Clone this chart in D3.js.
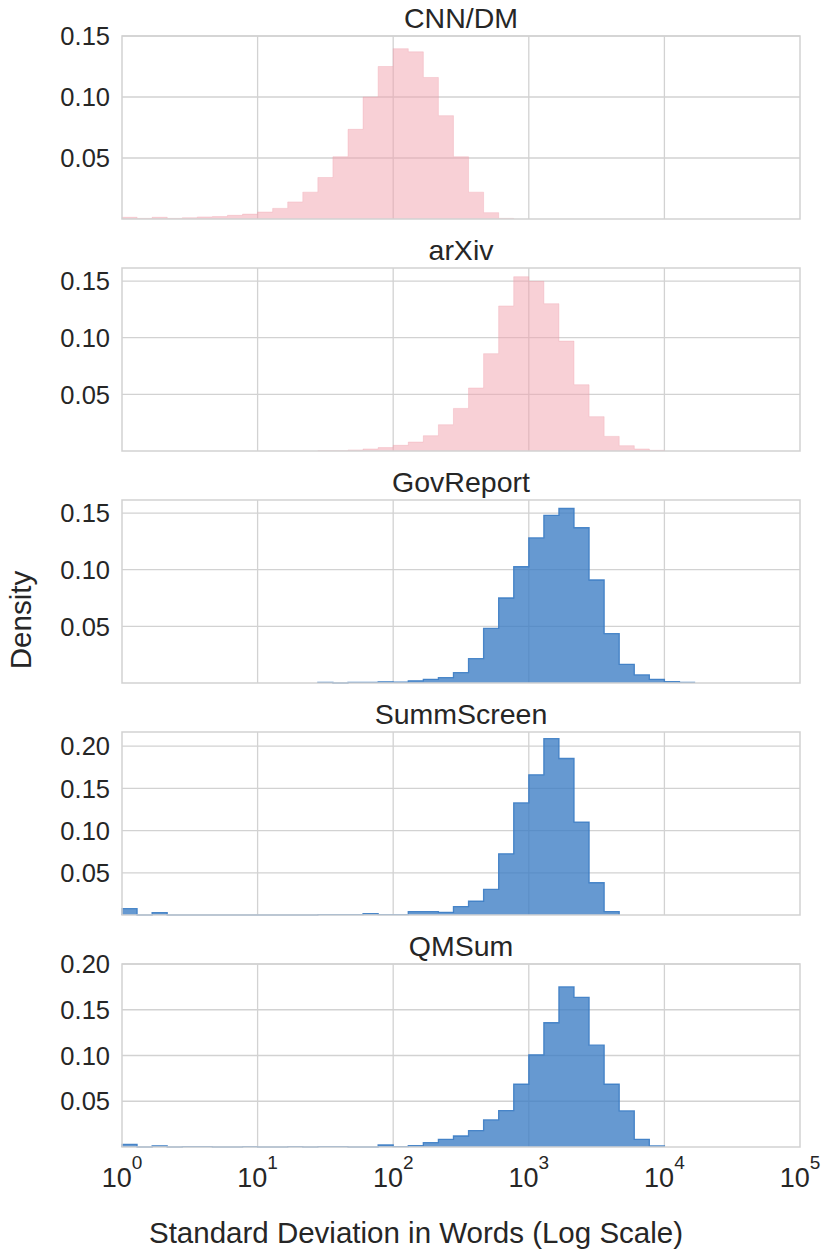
<!DOCTYPE html>
<html>
<head>
<meta charset="utf-8">
<script src="https://cdn.jsdelivr.net/npm/d3@7"></script>
<style>
  body { margin: 0; background: #fff; }
  text { font-family: "Liberation Sans", Arial, sans-serif; fill: #262626; }
</style>
</head>
<body>
<svg id="chart" width="830" height="1259"></svg>
<script>
// bins: 9 per decade, from 10^0 to 10^5
const binsPerDecade = 9;
const binEdges = d3.range(0, 46).map(k => Math.pow(10, k / binsPerDecade));

const titles = ["CNN/DM", "arXiv", "GovReport", "SummScreen", "QMSum"];

// densities per bin, starting at bin 0 (x = 1); bins after the list are empty
const cnnDm = [0.0014, 0.0005, 0.0014, 0.0005, 0.0010, 0.0017, 0.0020, 0.0030, 0.0040, 0.0057,
  0.0087, 0.0140, 0.0220, 0.0340, 0.0510, 0.0735, 0.1000, 0.1250, 0.1396, 0.1370,
  0.1160, 0.0847, 0.0510, 0.0220, 0.0052, 0.0005];
const arxiv = [0, 0, 0, 0, 0, 0, 0, 0, 0, 0,
  0, 0, 0, 0.0003, 0.0003, 0.0009, 0.0018, 0.0030, 0.0050, 0.0079,
  0.0135, 0.0232, 0.0376, 0.0556, 0.0859, 0.1280, 0.1538, 0.1497, 0.1300, 0.0970,
  0.0585, 0.0303, 0.0129, 0.0047, 0.0018, 0.0006];
const govReport = [0, 0, 0, 0, 0, 0, 0, 0, 0, 0,
  0, 0, 0, 0.0005, 0, 0.0005, 0.0005, 0.0010, 0.0008, 0.0019,
  0.0032, 0.0047, 0.0091, 0.0215, 0.0482, 0.0750, 0.1026, 0.1280, 0.1480, 0.1540,
  0.1370, 0.0909, 0.0435, 0.0165, 0.0071, 0.0032, 0.0012, 0.0006];
const summScreen = [0.0075, 0, 0.0027, 0, 0, 0, 0, 0, 0, 0,
  0, 0, 0, 0.0004, 0.0004, 0.0004, 0.0016, 0.0004, 0.0004, 0.0040,
  0.0040, 0.0032, 0.0100, 0.0163, 0.0303, 0.0725, 0.1327, 0.1660, 0.2088, 0.1853,
  0.1100, 0.0382, 0.0040];
const qmSum = [0.0028, 0, 0.0013, 0, 0.0005, 0.0005, 0, 0, 0.0005, 0,
  0, 0.0005, 0, 0.0005, 0.0005, 0, 0, 0.0022, 0.0004, 0.0015,
  0.0047, 0.0084, 0.0120, 0.0179, 0.0296, 0.0398, 0.0686, 0.1007, 0.1358, 0.1750,
  0.1635, 0.1113, 0.0686, 0.0394, 0.0084, 0.0011];

const seriesList = [cnnDm, arxiv, govReport, summScreen, qmSum];
const yMax = [0.150, 0.1615, 0.1615, 0.2167, 0.200];
const yTicks = [
  [0.05, 0.10, 0.15],
  [0.05, 0.10, 0.15],
  [0.05, 0.10, 0.15],
  [0.05, 0.10, 0.15, 0.20],
  [0.05, 0.10, 0.15, 0.20]
];
const xTicks = [1, 10, 100, 1000, 10000, 100000];

const pink = "#f2a2ae";
const blue = "#3b7cc4";
const colors = [pink, pink, blue, blue, blue];

// layout
const left = 122, right = 800;
const panelTop0 = 36, panelStep = 232, panelH = 183;
const gridColor = "#d2d2d2";

const svg = d3.select("#chart");
const x = d3.scaleLog().domain([1, 1e5]).range([left, right]);

seriesList.forEach((values, i) => {
  const top = panelTop0 + i * panelStep;
  const bottom = top + panelH;
  const y = d3.scaleLinear().domain([0, yMax[i]]).range([bottom, top]);
  const g = svg.append("g");

  // grid
  g.selectAll(".hgrid").data(yTicks[i]).join("line")
    .attr("x1", left).attr("x2", right)
    .attr("y1", d => y(d)).attr("y2", d => y(d))
    .attr("stroke", gridColor).attr("stroke-width", 1.3);
  g.selectAll(".vgrid").data(xTicks.slice(1, -1)).join("line")
    .attr("x1", d => x(d)).attr("x2", d => x(d))
    .attr("y1", top).attr("y2", bottom)
    .attr("stroke", gridColor).attr("stroke-width", 1.3);

  // step histogram, starting at the first non-empty bin
  const first = values.findIndex(v => v > 0);
  const pts = [[binEdges[first], 0]];
  values.forEach((v, k) => {
    if (k < first) return;
    pts.push([binEdges[k], v]);
    pts.push([binEdges[k + 1], v]);
  });
  pts.push([binEdges[values.length], 0]);

  const area = d3.area()
    .x(d => x(d[0])).y0(y(0)).y1(d => y(d[1]));
  const outline = d3.line().x(d => x(d[0])).y(d => y(d[1]));

  const isBlue = colors[i] === blue;
  g.append("path").attr("d", area(pts))
    .attr("fill", colors[i]).attr("fill-opacity", isBlue ? 0.78 : 0.5);
  g.append("path").attr("d", outline(pts))
    .attr("fill", "none")
    .attr("stroke", colors[i])
    .attr("stroke-opacity", isBlue ? 0.9 : 0.35)
    .attr("stroke-width", isBlue ? 1.3 : 1);

  // frame
  g.append("rect")
    .attr("x", left).attr("y", top)
    .attr("width", right - left).attr("height", panelH)
    .attr("fill", "none").attr("stroke", gridColor).attr("stroke-width", 1.5);

  // y tick labels
  g.selectAll(".ylab").data(yTicks[i]).join("text")
    .attr("x", 110).attr("y", d => y(d))
    .attr("dy", "0.36em")
    .attr("text-anchor", "end")
    .attr("font-size", 25.5)
    .text(d => d3.format(".2f")(d));

  // title
  g.append("text")
    .attr("x", (left + right) / 2).attr("y", top - 8)
    .attr("text-anchor", "middle")
    .attr("font-size", 28.5)
    .text(titles[i]);

  // x tick labels on the last panel
  if (i === seriesList.length - 1) {
    const lab = g.selectAll(".xlab").data(xTicks).join("text")
      .attr("x", d => x(d)).attr("y", 1187)
      .attr("text-anchor", "middle")
      .attr("font-size", 27);
    lab.append("tspan").text("10");
    lab.append("tspan")
      .attr("dy", -18).attr("font-size", 19)
      .text(d => Math.round(Math.log10(d)));
  }
});

// axis labels
svg.append("text")
  .attr("x", 416).attr("y", 1243)
  .attr("text-anchor", "middle")
  .attr("font-size", 29.5)
  .text("Standard Deviation in Words (Log Scale)");

svg.append("text")
  .attr("transform", "translate(31,620) rotate(-90)")
  .attr("text-anchor", "middle")
  .attr("font-size", 29.5)
  .text("Density");
</script>
</body>
</html>
